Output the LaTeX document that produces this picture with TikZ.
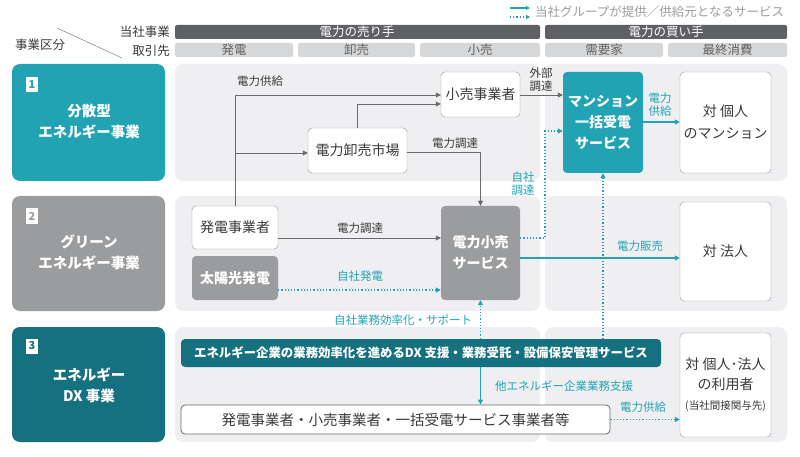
\documentclass[tikz,border=0pt]{standalone}
\usepackage{fontspec}
\setmainfont{Noto Sans CJK JP}
\usetikzlibrary{arrows.meta}
\definecolor{teal1}{HTML}{21A3B3}
\definecolor{teal2}{HTML}{15707F}
\definecolor{gray2}{HTML}{9B9C9E}
\definecolor{darkbar}{HTML}{5E6063}
\definecolor{lightbar}{HTML}{D6D7D9}
\definecolor{panel}{HTML}{EFEFF1}
\definecolor{ln}{HTML}{6A6B6D}
\definecolor{txt}{HTML}{3A3A3A}
\begin{document}
\begin{tikzpicture}[x=1pt,y=-1pt,
 box/.style={draw=ln!70,fill=white,rounded corners=4pt,align=center,text=txt,font=\fontsize{14}{19}\selectfont,inner sep=0pt},
 fbox/.style={rounded corners=4pt,align=center,text=white,font=\bfseries\fontsize{14}{21}\selectfont,inner sep=0pt},
 glin/.style={draw=ln,-{Triangle[length=5pt,width=5pt]}},
 tlin/.style={draw=teal1,line width=1.2pt,-{Triangle[length=5pt,width=5pt]}},
 dlin/.style={draw=teal1,line width=1.2pt,dotted,-{Triangle[length=5pt,width=5pt]}},
 lab/.style={font=\fontsize{11.5}{13}\selectfont,text=txt,align=center,inner sep=1pt},
 tlab/.style={lab,text=teal1},
 hd/.style={font=\fontsize{12.5}{13}\selectfont,inner sep=0pt},
 side/.style={rounded corners=8pt,align=center,text=white,font=\bfseries\fontsize{14.5}{21}\selectfont},
 num/.style={fill=white,minimum width=12pt,minimum height=15pt,inner sep=0pt,font=\bfseries\fontsize{11}{12}\selectfont}]
\useasboundingbox (0,0) rectangle (800,457);
% legend
\draw[teal1,line width=1.2pt,-{Triangle[length=4pt,width=4pt]}] (510,8)--(530,8);
\draw[teal1,line width=1.2pt,dotted,-{Triangle[length=4pt,width=4pt]}] (510,17)--(530,17);
\node[anchor=west,hd,text=gray2] (leg) at (535,12) {当社グループが提供／供給元となるサービス};
% header
\node[hd,text=txt,anchor=east] (h1) at (170,32) {当社事業};
\node[hd,text=txt,anchor=east] (h2) at (170,51) {取引先};
\node[hd,text=txt] (h3) at (40,45) {事業区分};
\draw[ln] (57,28)--(122,58);
\fill[darkbar,rounded corners=2pt] (175,25) rectangle (540,39);
\fill[darkbar,rounded corners=2pt] (545,25) rectangle (787,39);
\node[hd,text=white] (s1) at (357,32) {電力の売り手};
\node[hd,text=white] (s2) at (666,32) {電力の買い手};
\foreach \a/\b/\t in {175/293/発電,298/415/卸売,420/540/小売,545/663/需要家,668/787/最終消費}{
 \fill[lightbar,rounded corners=2pt] (\a,43) rectangle (\b,57);
 \node[hd,text=txt!80] at ({(\a+\b)/2},50) {\t};}
% panels
\foreach \y/\z in {64/181,196/311,327/442}{
 \fill[panel,rounded corners=8pt] (175,\y) rectangle (540,\z);
 \fill[panel,rounded corners=8pt] (545,\y) rectangle (787,\z);}
% side boxes
\fill[teal1,rounded corners=8pt] (12,64) rectangle (165,181);
\fill[gray2,rounded corners=8pt] (12,196) rectangle (165,311);
\fill[teal2,rounded corners=8pt] (12,327) rectangle (165,442);
\node[num,text=teal1] (n1) at (32,85) {1};
\node[num,text=gray2] (n2) at (32,216) {2};
\node[num,text=teal2] (n3) at (32,346) {3};
\node[side] (c1) at (89,122) {分散型\\エネルギー事業};
\node[side] (c2) at (89,252) {グリーン\\エネルギー事業};
\node[side] (c3) at (89,385) {エネルギー\\DX 事業};
% nodes
\node[box,minimum width=79pt,minimum height=45pt] (kouri) at (480.5,94.5) {小売事業者};
\node[box,minimum width=99pt,minimum height=45pt] (oroshi) at (357.5,150.5) {電力卸売市場};
\node[fbox,fill=teal1,minimum width=80pt,minimum height=101pt] (mansion) at (603,122.5) {マンション\\一括受電\\サービス};
\node[box,minimum width=91pt,minimum height=101pt,font=\fontsize{14}{22}\selectfont] (kojin) at (725.5,122.5) {対 個人\\のマンション};
\node[box,minimum width=86pt,minimum height=43pt] (hatsuden) at (235,227.5) {発電事業者};
\node[fbox,fill=gray2,minimum width=86pt,minimum height=44pt] (taiyo) at (235,278) {太陽光発電};
\node[fbox,fill=gray2,minimum width=79pt,minimum height=94pt] (kourisvc) at (480.5,253) {電力小売\\サービス};
\node[box,minimum width=91pt,minimum height=99pt] (hojin) at (725.5,251.5) {対 法人};
\node[fbox,fill=teal2,minimum width=480pt,minimum height=28pt,font=\bfseries\fontsize{12.4}{14}\selectfont] (dx) at (421,353) {エネルギー企業の業務効率化を進めるDX 支援・業務受託・設備保安管理サービス};
\node[box,draw=ln,line width=0.8pt,minimum width=429pt,minimum height=29pt,font=\fontsize{14.5}{16}\selectfont] (jigyo) at (395.5,419.5) {発電事業者・小売事業者・一括受電サービス事業者等};
\node[box,minimum width=91pt,minimum height=104pt,font=\fontsize{14}{20}\selectfont] (riyo) at (725.5,385) {対 個人･法人\\の利用者\\{\fontsize{10.5}{12}\selectfont (当社間接関与先)}};
% connectors
\coordinate (t1) at (235,95);
\draw[ln] (hatsuden.north) -- (t1);
\draw[glin] (t1) -- (kouri.west|-t1);
\node[lab] (l1) at (260,81) {電力供給};
\draw[glin] (235,153) -- (oroshi.west|-0,153);
\draw[glin] (oroshi.north) |- (kouri.west|-0,104);
\draw[glin] (oroshi.east|-0,152) -| (kourisvc.north);
\node[lab] (l2) at (455,143) {電力調達};
\draw[glin] (kouri.east|-0,95) -- (mansion.west|-0,95);
\node[lab,font=\fontsize{11.5}{13}\selectfont] (l3) at (541,80) {外部\\調達};
\draw[dlin] (kourisvc.east|-0,238) -| (545,180) |- (mansion.west|-0,131);
\node[tlab,font=\fontsize{11.5}{13}\selectfont] (l4) at (523,184) {自社\\調達};
\draw[tlin] (mansion.east|-0,122) -- (kojin.west|-0,122);
\node[tlab,font=\fontsize{11.5}{13}\selectfont] (l5) at (660,105) {電力\\供給};
\draw[glin] (hatsuden.east|-0,238) -- (kourisvc.west|-0,238);
\node[lab] (l6) at (360,228) {電力調達};
\draw[dlin] (taiyo.east|-0,290) -- (kourisvc.west|-0,290);
\node[tlab] (l7) at (360,276) {自社発電};
\draw[tlin] (kourisvc.east|-0,258) -- (hojin.west|-0,258);
\node[tlab] (l8) at (640,246) {電力販売};
\draw[dlin] (dx.north-|kourisvc) -- (kourisvc.south);
\node[tlab] (l9) at (403,320) {自社業務効率化・サポート};
\draw[dlin] (dx.north-|mansion) -- (mansion.south);
\draw[tlin] (dx.south-|kourisvc) -- (jigyo.north-|kourisvc);
\node[tlab] (l10) at (564,386) {他エネルギー企業業務支援};
\draw[dlin] (jigyo.east) -- (riyo.west|-jigyo.east);
\node[tlab] (l11) at (643,407) {電力供給};
\end{tikzpicture}
\end{document}
